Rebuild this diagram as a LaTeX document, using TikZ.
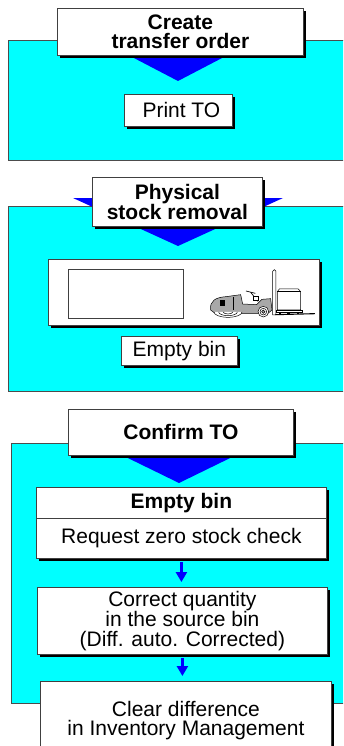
\documentclass[tikz,border=0pt]{standalone}
\usepackage{fontspec}
\setmainfont{Liberation Sans}
\usetikzlibrary{shadows,arrows.meta}
\definecolor{panelcyan}{RGB}{0,255,255}
\definecolor{flowblue}{RGB}{0,0,255}
\definecolor{bodygray}{RGB}{168,168,168}

\begin{document}
\begin{tikzpicture}[x=1pt,y=-1pt,
  panel/.style={draw=black!70, fill=panelcyan, line width=0.8pt},
  pointer/.style={fill=flowblue},
  dims/.style 2 args={minimum width=#1pt, minimum height=#2pt},
  cell/.style={draw=black!75, fill=white, line width=0.8pt, anchor=north west,
    inner sep=0pt, align=center, font=\fontsize{21}{19.4}\selectfont},
  card/.style={cell, drop shadow={shadow xshift=3pt, shadow yshift=-3pt, fill=black, opacity=1}},
  headcard/.style={card, font=\fontsize{21}{19.4}\selectfont\bfseries},
  flow/.style={draw=flowblue, line width=3pt, -{Triangle[width=11pt,length=10pt]}, shorten >=5pt},
  outline/.style={draw=black!75, line width=0.6pt},
]
\useasboundingbox (0,0) rectangle (343,746);
\clip (0,0) rectangle (343,746);

% ---------- stage 1: create transfer order ----------
\path[panel] (8,40) rectangle (352,160);
\path[pointer] (109,45) -- (247,45) -- (178,81) -- cycle;
\node[headcard, dims={246}{47}] (create) at (57,8) {Create\\transfer order};
\node[card, dims={108}{32}] (printto) at (124,94) {\hspace*{6pt}Print TO};

% ---------- stage 2: physical stock removal ----------
\path[panel] (8,206) rectangle (352,391);
\path[pointer] (73,198) -- (283,198) -- (178,246) -- cycle;
\node[headcard, dims={170}{49}] (removal) at (92,177) {Physical\\stock removal};
\node[card, dims={271}{66}] (scene) at (48,259) {};
\draw[outline] (68,269) rectangle (183,318);

% forklift carrying a pallet
\begin{scope}[shift={(200,260)}, x=0.3333pt, y=-0.3333pt, line width=0.5pt]
  % mast
  \draw[fill=white] (218,165) -- (218,34) arc[start angle=180, end angle=360, radius=5] -- (228,165) -- cycle;
  % load on the pallet
  \draw[fill=white] (232,150) -- (232,95) -- (238,87) -- (295,87) -- (302,95) -- (302,150) -- cycle;
  \draw (232,95) -- (302,95);
  \draw[fill=white] (230,150) rectangle (306,157);
  \fill (236,157) rectangle (244,163);
  \fill (262,157) rectangle (270,163);
  \fill (290,157) rectangle (298,163);
  % forks
  \draw[line width=1.1pt] (226,164) -- (345,161);
  % body
  \draw[fill=bodygray] (32,150) .. controls (28,122) and (48,112) .. (78,110)
    -- (122,104) -- (128,132) -- (170,134) -- (186,118) -- (212,116)
    -- (216,150) -- (204,160) -- (45,160) -- cycle;
  \fill (60,120) rectangle (76,138);
  \draw[line width=0.7pt] (100,110) -- (100,150);
  % steering
  \draw[line width=0.7pt] (174,124) -- (152,97);
  \draw[line width=0.7pt] (138,93) -- (166,100);
  \draw[fill=white] (160,110) rectangle (176,122);
  % rear wheel
  \draw[fill=white] (42,156) arc[start angle=180, end angle=0, x radius=42, y radius=16];
  \draw (56,156) arc[start angle=180, end angle=0, x radius=28, y radius=11];
  \draw (70,156) arc[start angle=180, end angle=0, x radius=14, y radius=6];
  % front wheel
  \draw[fill=white] (190,155) circle[radius=16];
  \draw (190,155) circle[radius=10];
  \draw[fill=bodygray] (190,155) circle[radius=5];
\end{scope}

\node[card, dims={116}{29}] (emptybin) at (121,336) {Empty bin};

% ---------- stage 3: confirm transfer order ----------
\path[panel] (11,443) rectangle (352,703);
\path[pointer] (91,440) -- (267,440) -- (179,483) -- cycle;
\node[headcard, dims={225}{46}] (confirm) at (68,409) {Confirm TO};

\node[card, dims={290}{71}] (binframe) at (36,487) {};
\node[cell, font=\fontsize{21}{19.4}\selectfont\bfseries, dims={290}{31}] (binhead) at (36,487) {Empty bin};
\node[cell, dims={290}{40}] (zerocheck) at (36,518) {Request zero stock check};

\node[card, dims={290}{67}] (correct) at (37,587)
  {Correct quantity\\in the source bin\\(Diff. auto. Corrected)};
\node[card, dims={291}{78}] (clear) at (40,681)
  {Clear difference\\in Inventory Management};

\draw[flow] ([yshift=-3pt]zerocheck.south) -- (zerocheck.south |- correct.north);
\draw[flow] ([yshift=-3pt]correct.south) -- (correct.south |- clear.north);
\end{tikzpicture}
\end{document}
